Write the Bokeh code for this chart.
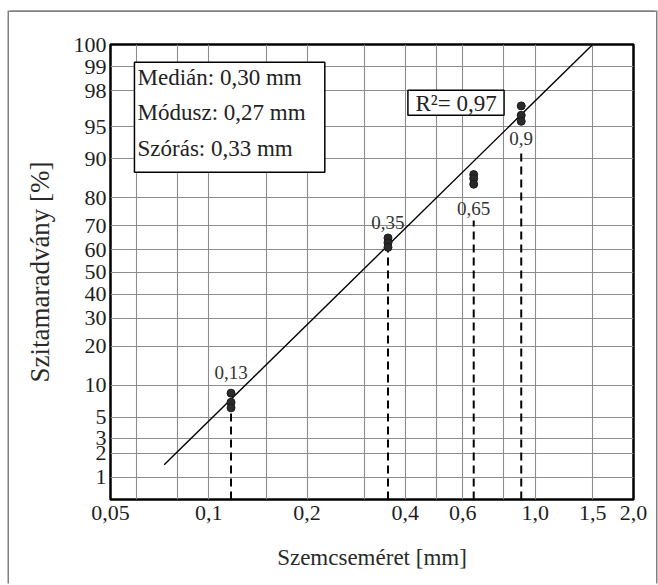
from statistics import NormalDist
from bokeh.plotting import figure
from bokeh.models import (FixedTicker, CustomJSTickFormatter, Range1d, Label,
                          BoxAnnotation)
from bokeh.core.properties import value
from bokeh.embed import file_html
from bokeh.resources import INLINE

# ---------------- data ----------------
x_tick_values = [0.05, 0.1, 0.2, 0.4, 0.6, 1.0, 1.5, 2.0]
x_tick_labels = ["0,05", "0,1", "0,2", "0,4", "0,6", "1,0", "1,5", "2,0"]
x_grid_values = [0.06, 0.08, 0.1, 0.15, 0.2, 0.3, 0.4, 0.5, 0.6, 0.8, 1.0, 1.5]

y_tick_values = [1, 2, 3, 5, 10, 20, 30, 40, 50, 60, 70, 80, 90, 95, 98, 99, 100]
y_tick_labels = ["1", "2", "3", "5", "10", "20", "30", "40", "50", "60", "70",
                 "80", "90", "95", "98", "99", "100"]

fraction_labels = ["0,13", "0,35", "0,65", "0,9"]
fraction_sizes = [0.117, 0.354, 0.648, 0.906]          # mm
residue_1 = [8.5, 7.0, 6.2]                             # %
residue_2 = [65.0, 63.0, 61.0]
residue_3 = [86.5, 85.5, 84.0]
residue_4 = [97.0, 96.2, 95.6]
dash_top = [6.2, 61.0, 72.0, 91.6]                      # % where dashed drop line ends
label_level = [12.8, 71.3, 76.5, 93.5]                  # % level of fraction labels

fit_x = [0.073, 1.5]
fit_residue = [1.45, 99.5]

stats_lines = ["Medián: 0,30 mm", "Módusz: 0,27 mm", "Szórás: 0,33 mm"]
r2_text = "R²= 0,97"

# ---------------- scale helpers ----------------
P_LOW, P_HIGH = 0.5, 99.5
ND = NormalDist()


def probit(p):
    p = min(max(p, P_LOW), P_HIGH)
    return ND.inv_cdf(p / 100.0)


FONT = "Liberation Serif"

p = figure(width=647, height=573, x_axis_type="log",
           x_range=Range1d(0.05, 2.0), y_range=Range1d(probit(P_LOW), probit(P_HIGH)),
           output_backend="svg", toolbar_location=None, title=None)
p.min_border_left = 101
p.min_border_right = 23
p.min_border_top = 32
p.min_border_bottom = 86
p.background_fill_color = "white"
p.border_fill_color = "white"
p.outline_line_color = "black"
p.outline_line_width = 2.5
# thin grey page frame around the whole figure (left, top, right)
p.styles = {"margin-left": "9px", "margin-top": "12px",
            "box-shadow": "-1.5px -1.5px 0 0 #808080, 1.5px -1.5px 0 0 #808080"}

# axes
y_pos = [probit(v) for v in y_tick_values]
p.yaxis.ticker = FixedTicker(ticks=y_pos)
p.yaxis.formatter = CustomJSTickFormatter(args=dict(pos=y_pos, labels=y_tick_labels), code="""
    let best = 0, bd = 1e9;
    for (let i = 0; i < pos.length; i++) { const d = Math.abs(pos[i] - tick); if (d < bd) { bd = d; best = i; } }
    return labels[best];
""")
p.xaxis.ticker = FixedTicker(ticks=x_tick_values)
p.xaxis.formatter = CustomJSTickFormatter(args=dict(pos=x_tick_values, labels=x_tick_labels), code="""
    let best = 0, bd = 1e9;
    for (let i = 0; i < pos.length; i++) { const d = Math.abs(Math.log(pos[i]) - Math.log(tick)); if (d < bd) { bd = d; best = i; } }
    return labels[best];
""")
for ax in (p.xaxis[0], p.yaxis[0]):
    ax.axis_line_color = None
    ax.major_tick_line_color = None
    ax.minor_tick_line_color = None
    ax.major_tick_out = 0
    ax.major_tick_in = 0
    ax.major_label_text_font = FONT
    ax.major_label_text_font_size = "22px"
    ax.major_label_text_color = "#1e1e1e"
    ax.axis_label_text_font = FONT
    ax.axis_label_text_font_style = "normal"
    ax.axis_label_text_color = "#2a2a2a"
p.yaxis.axis_label_text_font_size = "27px"
p.xaxis.axis_label_text_font_size = "23px"
p.yaxis.major_label_standoff = 4
p.xaxis.major_label_standoff = 6
p.yaxis.axis_label = "Szitamaradvány [%]"
p.xaxis.axis_label = "Szemcseméret [mm]"
p.yaxis.axis_label_standoff = 16
p.xaxis.axis_label_standoff = 22

p.xgrid.ticker = FixedTicker(ticks=x_grid_values)
p.ygrid.ticker = FixedTicker(ticks=y_pos[:-1])
for g in (p.xgrid[0], p.ygrid[0]):
    g.grid_line_color = "#8c8c8c"
    g.grid_line_width = 1.1

# fit line
p.line(fit_x, [probit(v) for v in fit_residue], line_color="black", line_width=1.4)

# dashed drop lines
for xs, top in zip(fraction_sizes, dash_top):
    p.line([xs, xs], [probit(P_LOW), probit(top)], line_color="black",
           line_width=2, line_dash="8 5")

# points
pts_x, pts_y = [], []
for xs, grp in zip(fraction_sizes, [residue_1, residue_2, residue_3, residue_4]):
    for r in grp:
        pts_x.append(xs)
        pts_y.append(probit(r))
p.scatter(pts_x, pts_y, size=8, fill_color="#2b2b2b", line_color="#1a1a1a", line_width=1)

# fraction labels
p.text(x=fraction_sizes, y=[probit(v) for v in label_level], text=fraction_labels,
       text_align="center", text_baseline="middle", text_font=value(FONT),
       text_font_size="19px", text_color="#333333")

# statistics box
p.add_layout(BoxAnnotation(left=0.0592, right=0.2267, top=2.3735, bottom=1.1285,
                           fill_color="white", fill_alpha=1.0,
                           line_color="black", line_alpha=1.0, line_width=1.5))
for txt, yz in zip(stats_lines, [2.204, 1.808, 1.400]):
    p.add_layout(Label(x=0.0605, y=yz, text=txt, text_align="left", text_baseline="middle",
                       text_font=FONT, text_font_size="23px", text_color="#222222"))

# R^2 box
p.add_layout(BoxAnnotation(left=0.4074, right=0.8026, top=2.0566, bottom=1.7737,
                           fill_color="white", fill_alpha=1.0,
                           line_color="black", line_alpha=1.0, line_width=1.5))
p.add_layout(Label(x=0.572, y=1.909, text=r2_text, text_align="center", text_baseline="middle",
                   text_font=FONT, text_font_size="23px", text_color="#222222"))

open("out.html", "w").write(file_html(p, INLINE))
